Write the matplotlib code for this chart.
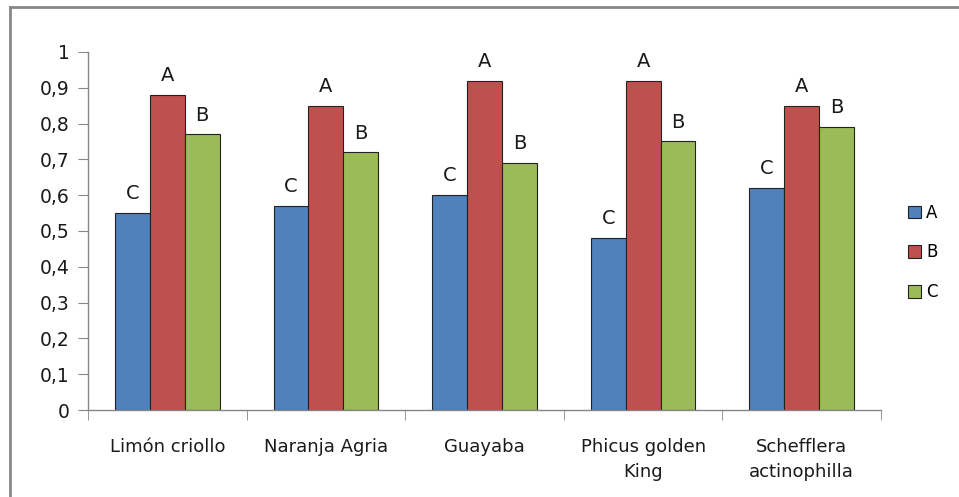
import numpy as np
import matplotlib.pyplot as plt
from matplotlib.lines import Line2D
from matplotlib.ticker import FixedLocator

plt.rcParams['font.family'] = ['DejaVu Sans']

categorias = ['Limón criollo', 'Naranja Agria', 'Guayaba',
              'Phicus golden\nKing', 'Schefflera\nactinophilla']
series = ['A', 'B', 'C']
valores_a = [0.55, 0.57, 0.60, 0.48, 0.62]
valores_b = [0.88, 0.85, 0.92, 0.92, 0.85]
valores_c = [0.77, 0.72, 0.69, 0.75, 0.79]
letras_a = ['C', 'C', 'C', 'C', 'C']
letras_b = ['A', 'A', 'A', 'A', 'A']
letras_c = ['B', 'B', 'B', 'B', 'B']
yticks = [0, 0.1, 0.2, 0.3, 0.4, 0.5, 0.6, 0.7, 0.8, 0.9, 1]

colores = ['#4F81BD', '#C0504D', '#9BBB59']
datos = [valores_a, valores_b, valores_c]
letras = [letras_a, letras_b, letras_c]

fig = plt.figure(figsize=(9.59, 4.97), dpi=100)
ax = fig.add_axes([88 / 959, 1 - 410 / 497, 793 / 959, 358 / 497])

x = np.arange(len(categorias))
w = 0.22
for i, (vals, col, lab, let) in enumerate(zip(datos, colores, series, letras)):
    pos = x + (i - 1) * w
    ax.bar(pos, vals, w, color=col, edgecolor='#222222', linewidth=0.8, label=lab)
    for p, v, t in zip(pos, vals, let):
        ax.annotate(t, (p, v), xytext=(0, 7), textcoords='offset points',
                    ha='center', va='bottom', fontsize=14, color='#1a1a1a')

ax.set_xlim(-0.5, len(categorias) - 0.5)
ax.set_ylim(0, 1)
ax.set_yticks(yticks)
ax.set_yticklabels([('%g' % t).replace('.', ',') for t in yticks],
                   fontsize=13.5, color='#1a1a1a')
ax.set_xticks(x)
ax.set_xticklabels(categorias, fontsize=13, color='#1a1a1a', linespacing=1.55)
ax.xaxis.set_minor_locator(FixedLocator(np.arange(-0.5, len(categorias), 1)))
ax.tick_params(axis='x', which='major', length=0, pad=20)
ax.tick_params(axis='x', which='minor', length=7, color='#868686', direction='out')
ax.tick_params(axis='y', length=7, color='#868686', direction='out', pad=6)
for s in ['top', 'right']:
    ax.spines[s].set_visible(False)
for s in ['left', 'bottom']:
    ax.spines[s].set_color('#868686')
    ax.spines[s].set_linewidth(1)

leg = ax.legend(loc='center left', bbox_to_anchor=(1.015, 0.44), frameon=False,
                fontsize=12, handlelength=0.8, handleheight=0.8,
                handletextpad=0.3, labelspacing=1.3)

# marco del gráfico
fig.add_artist(Line2D([10 / 959, 1], [1 - 7 / 497, 1 - 7 / 497],
                      transform=fig.transFigure, color='#878787', linewidth=2))
fig.add_artist(Line2D([10 / 959, 10 / 959], [0, 1 - 7 / 497],
                      transform=fig.transFigure, color='#878787', linewidth=2))

fig.savefig('out.png', dpi=100)
